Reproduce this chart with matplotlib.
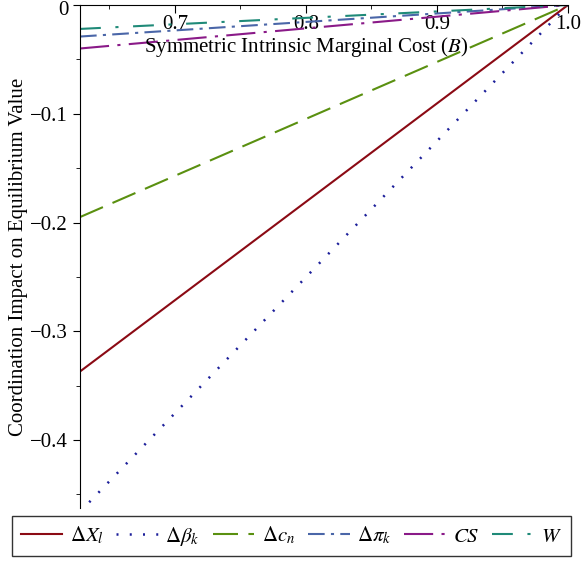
import matplotlib.pyplot as plt
import matplotlib.transforms as mtransforms

plt.rcParams['font.family'] = ['Liberation Serif', 'DejaVu Serif']
plt.rcParams['mathtext.fontset'] = 'stix'

# data: each curve is linear in B, zero at B = 1
B = [0.6275, 1.0]
dX = [-0.337, 0.0]
dbeta = [-0.466, 0.0]
dc = [-0.195, 0.0]
dpi = [-0.029, 0.0]
cs = [-0.040, 0.0]
w = [-0.022, 0.0]

labels = [r'$\Delta X_l$', r'$\Delta\beta_k$', r'$\Delta c_n$',
          r'$\Delta\pi_k$', r'$CS$', r'$W$']

fig = plt.figure(figsize=(5.83, 5.67), dpi=100)
ax = fig.add_axes([80 / 583, 1 - 508 / 567, 488 / 583, 503 / 567])

ax.plot(B, dX, color='#8b0a14', lw=1.5, label=labels[0])
ax.plot(B, dbeta, color='#1c1f9a', lw=1.8, linestyle=(0, (0.8, 4.5)),
        label=labels[1])
ax.plot(B, dc, color='#5a9010', lw=1.5, linestyle=(0, (12, 5)), label=labels[2])
ax.plot(B, dpi, color='#4a66a8', lw=1.5, linestyle=(0, (8, 3, 1.5, 3)),
        label=labels[3])
ax.plot(B, cs, color='#8a1a88', lw=1.5, linestyle=(0, (14, 4, 1.5, 4)),
        label=labels[4])
ax.plot(B, w, color='#1f8a78', lw=1.5, linestyle=(0, (10, 7, 1.5, 7)),
        label=labels[5])

ax.set_xlim(0.6275, 1.0)
ax.set_ylim(-0.4625, 0.0)

ax.spines['right'].set_visible(False)
ax.spines['bottom'].set_visible(False)
ax.spines['top'].set_position(('data', 0))
ax.xaxis.set_ticks_position('top')
ax.xaxis.set_label_position('top')

ax.set_xticks([0.7, 0.8, 0.9, 1.0])
ax.set_xticklabels(['0.7', '0.8', '0.9', '1.0'])
ax.set_xticks([0.65, 0.75, 0.85, 0.95], minor=True)
ax.tick_params(axis='x', which='both', direction='in', top=True, bottom=False,
               labeltop=True, labelbottom=False, pad=-21, labelsize=15)
ax.tick_params(axis='x', which='major', length=6)
ax.tick_params(axis='x', which='minor', length=3)

ax.set_yticks([0, -0.1, -0.2, -0.3, -0.4])
ax.set_yticklabels(['0', '\u22120.1', '\u22120.2', '\u22120.3', '\u22120.4'])
ax.set_yticks([-0.05, -0.15, -0.25, -0.35, -0.45], minor=True)
ax.tick_params(axis='y', which='major', direction='out', length=5, labelsize=15)
ax.tick_params(axis='y', which='minor', direction='out', length=3)

# nudge the "0" label down a little so it is not clipped at the top edge
lab0 = ax.yaxis.get_major_ticks()[0].label1
lab0.set_transform(lab0.get_transform() +
                   mtransforms.ScaledTranslation(0, -2.5 / 72, fig.dpi_scale_trans))

ax.text(0.8, -0.039, r'Symmetric Intrinsic Marginal Cost ($B$)',
        ha='center', va='center', fontsize=15)
ax.set_ylabel('Coordination Impact on Equilibrium Value', fontsize=15, labelpad=2)

ax.patch.set_alpha(0)

fig.legend(loc='lower center', bbox_to_anchor=(0.5, 0.012), ncol=6,
           fontsize=15, frameon=True, fancybox=False, edgecolor='black',
           handlelength=2.0, handletextpad=0.35, columnspacing=0.62,
           borderpad=0.4, borderaxespad=0.2)

fig.savefig('out.png', dpi=100)
